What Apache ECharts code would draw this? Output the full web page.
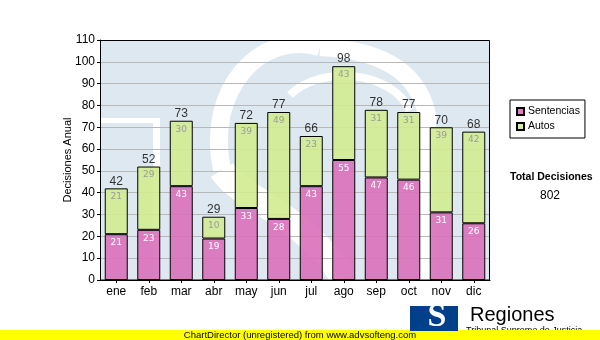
<!DOCTYPE html>
<html><head><meta charset="utf-8">
<script src="https://cdn.jsdelivr.net/npm/echarts@6/dist/echarts.min.js"></script>
<style>html,body{margin:0;padding:0;background:#fff}#c{width:600px;height:340px}</style>
</head><body><div id="c"></div>
<script>
var categories = ['ene','feb','mar','abr','may','jun','jul','ago','sep','oct','nov','dic'];
var sentencias = [21,23,43,19,33,28,43,55,47,46,31,26];
var autos = [21,29,30,10,39,49,23,43,31,31,39,42];
var totals = sentencias.map(function(v,i){return v+autos[i];});
var grandTotal = totals.reduce(function(a,b){return a+b;},0);

var chart = echarts.init(document.getElementById('c'), null, {renderer:'canvas'});
var F = 'Liberation Sans, Arial, sans-serif';
var wm = '#ffffff';
chart.setOption({
  animation:false,
  textStyle:{fontFamily:F},
  grid:{left:100,right:110,top:40,bottom:60,show:false},
  xAxis:{type:'category',data:categories,
    axisLine:{lineStyle:{color:'#000',width:1}},
    axisTick:{show:true,alignWithLabel:true,length:3,lineStyle:{color:'#000'}},
    axisLabel:{color:'#000',fontSize:12,margin:6,fontFamily:F}},
  yAxis:{type:'value',min:0,max:110,interval:10,
    name:'Decisiones Anual',nameLocation:'middle',nameGap:27,nameRotate:90,nameMoveOverlap:false,
    nameTextStyle:{color:'#000',fontSize:11,fontFamily:F},
    axisLine:{show:true,lineStyle:{color:'#000',width:1}},
    axisTick:{show:true,length:3,lineStyle:{color:'#000'}},
    axisLabel:{color:'#000',fontSize:12,margin:5,fontFamily:F},
    splitLine:{lineStyle:{color:'#b8b8b8',width:1}}},
  legend:{data:['Sentencias','Autos'],orient:'vertical',left:510,top:100,
    itemWidth:7,itemHeight:7,itemGap:4,padding:[6,5,6,6],
    borderColor:'#000',borderWidth:1,icon:'rect',
    textStyle:{color:'#000',fontSize:10.5,fontFamily:F,padding:[0,0,0,-1]}},
  series:[
    {name:'Sentencias',type:'bar',stack:'t',data:sentencias,barWidth:23,
     itemStyle:{color:'rgba(218,112,186,0.9)',borderColor:'#000',borderWidth:1},
     label:{show:true,position:'insideTop',distance:4,color:'#fff',fontSize:9,fontFamily:'DejaVu Sans, Verdana, sans-serif'}},
    {name:'Autos',type:'bar',stack:'t',data:autos,barWidth:23,
     itemStyle:{color:'rgba(210,236,145,0.9)',borderColor:'#000',borderWidth:1},
     label:{show:true,position:'insideTop',distance:4,color:'#9a9a9a',fontSize:9,fontFamily:'DejaVu Sans, Verdana, sans-serif'}},
    {name:'Total',type:'scatter',data:totals,symbolSize:0,silent:true,z:5,
     label:{show:true,position:'top',distance:1,color:'#000',fontSize:12,fontFamily:F,formatter:function(p){return p.value;}}}
  ],
  graphic:[
    {type:'rect',z:-10,shape:{x:100,y:40,width:390,height:240},style:{fill:'#dee8f1'}},
    {type:'rect',z:-9,shape:{x:100,y:118,width:55,height:5},style:{fill:wm}},
    {type:'rect',z:-9,shape:{x:153,y:118,width:7,height:162},style:{fill:wm}},
    {type:'bezierCurve',z:-9,shape:{x1:222,y1:170,cpx1:205,cpy1:90,cpx2:260,cpy2:30,x2:320,y2:47},style:{stroke:wm,lineWidth:18,fill:null}},
    {type:'bezierCurve',z:-9,shape:{x1:320,y1:47,cpx1:380,cpy1:50,cpx2:420,cpy2:70,x2:428,y2:120},style:{stroke:wm,lineWidth:18,fill:null}},
    {type:'rect',z:-9,shape:{x:420,y:118,width:16,height:162},style:{fill:wm}},
    {type:'bezierCurve',z:-9,shape:{x1:290,y1:95,cpx1:320,cpy1:65,cpx2:390,cpy2:70,x2:410,y2:110},style:{stroke:wm,lineWidth:8,fill:null}},
    {type:'bezierCurve',z:-9,shape:{x1:222,y1:170,cpx1:240,cpy1:200,cpx2:300,cpy2:210,x2:345,y2:280},style:{stroke:wm,lineWidth:26,fill:null}},
    {type:'rect',z:-8,shape:{x:0,y:0,width:100,height:340},style:{fill:'#fff'}},
    {type:'rect',z:-8,shape:{x:490,y:0,width:110,height:340},style:{fill:'#fff'}},
    {type:'rect',z:-8,shape:{x:0,y:0,width:600,height:40},style:{fill:'#fff'}},
    {type:'rect',z:-8,shape:{x:0,y:280,width:600,height:60},style:{fill:'#fff'}},
    {type:'rect',z:3,shape:{x:100.5,y:40.5,width:389,height:239.5},style:{fill:null,stroke:'#000',lineWidth:1}},
    {type:'text',left:510,top:172,style:{text:'Total Decisiones',font:'bold 10.5px '+F,fill:'#000'}},
    {type:'text',x:550,y:190,style:{text:String(grandTotal),font:'12px '+F,fill:'#000',textAlign:'center'}},
    {type:'text',x:466,y:326,z:9,style:{text:'Tribunal Supremo de Justicia',font:'9px '+F,fill:'#000'}},
    {type:'rect',shape:{x:0,y:330,width:600,height:10},style:{fill:'#ffff00'},z:10},
    {type:'text',x:300,y:330,z:11,style:{text:'ChartDirector (unregistered) from www.advsofteng.com',font:'9.5px '+F,fill:'#000',textAlign:'center'}},
    {type:'rect',shape:{x:410,y:306,width:48,height:25},style:{fill:'#003f8a'},z:12},
    {type:'text',x:437,y:300,z:13,style:{text:'S',font:'bold 34px Liberation Serif, serif',fill:'#fff',textAlign:'center'}},
    {type:'text',x:470,y:305,z:12,style:{text:'Regiones',font:'20px '+F,fill:'#000'}}
  ]
});
</script></body></html>
